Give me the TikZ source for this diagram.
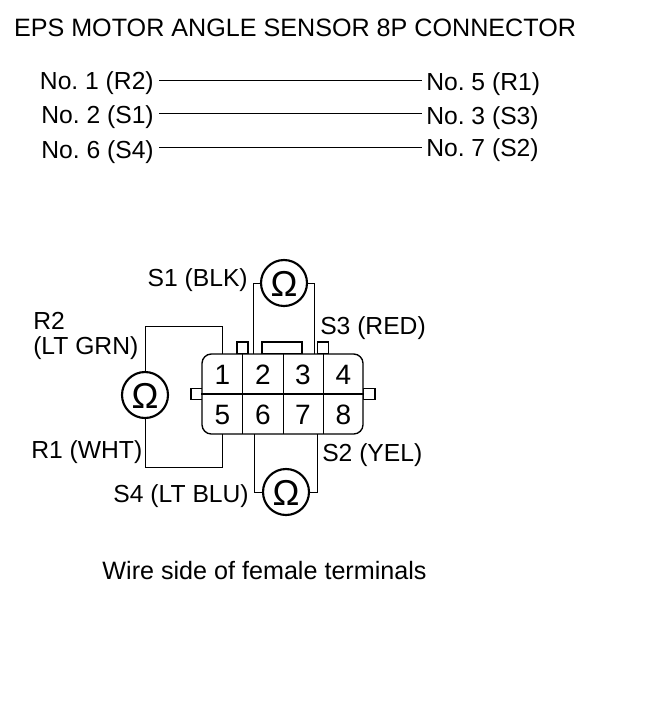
\documentclass[tikz,border=0pt]{standalone}
\usepackage{fontspec}
\setmainfont{Liberation Sans}
\frenchspacing
\tikzset{
  wire/.style = {draw=black, line width=0.7pt},
  txt/.style = {font=\fontsize{18.5}{22}\selectfont, inner sep=0pt, text height=13.4pt, text depth=0pt},
  head/.style = {font=\fontsize{18.85}{22}\selectfont},
  numb/.style = {font=\fontsize{21}{24}\selectfont, inner sep=0pt, text height=15pt, text depth=0pt},
  meter/.style = {draw=black, line width=1.6pt, circle, minimum size=46*0.75pt,
    inner sep=0pt, text height=19.5pt, text depth=0pt, font=\fontsize{27}{30}\selectfont},
  tab/.style = {draw=black, line width=1pt, fill=white, inner sep=0pt, text height=0pt}
}

\begin{document}
\begin{tikzpicture}[x=0.75pt, y=-0.75pt, every node/.style={txt}]
  \useasboundingbox (0,0) rectangle (654,718);
  \node[fill=white, minimum width=654*0.75pt, minimum height=718*0.75pt] (page) at (327,359) {};
  \node[head] (title) at (295,28) {EPS MOTOR ANGLE SENSOR 8P CONNECTOR};
  \node[head] (foot) at (264.5,570.5) {Wire side of female terminals};
  % Continuity table
  \foreach \lname/\ltext/\ly/\rname/\rtext/\ry/\dy in {
      noA/No. 1 (R2)/80.5/noE/No. 5 (R1)/81.5/0.4,
      noB/No. 2 (S1)/114.5/noC/No. 3 (S3)/115.5/1.1,
      noF/No. 6 (S4)/149.5/noG/No. 7 (S2)/147.5/1.9
    } {
      \node[anchor=east] (\lname) at (154,\ly) {\ltext};
      \node[anchor=west] (\rname) at (426,\ry) {\rtext};
      \draw[wire, shorten <=3.75pt, shorten >=3pt] ([yshift=\dy]\lname.east)
        -- ([yshift=\dy]\lname.east -| \rname.west);
    };
  % Connector shell
  \node[tab, minimum width=40*0.75pt, minimum height=12*0.75pt] (key) at (282,348) {};
  \node[tab, minimum width=11*0.75pt, minimum height=12*0.75pt] (tabA) at (242.5,348) {};
  \node[tab, minimum width=11*0.75pt, minimum height=12*0.75pt] (tabB) at (323,348) {};
  \node[tab, minimum width=12*0.75pt, minimum height=11*0.75pt] (tabL) at (197,394) {};
  \node[tab, minimum width=12*0.75pt, minimum height=11*0.75pt] (tabR) at (369,394) {};
  \node[tab, rounded corners=7pt,
    minimum width=161*0.75pt, minimum height=80*0.75pt] (shell) at (282.5,394) {};
  % Terminals, four to a row
  \foreach \pin/\px/\py in {
      1/222.5/374, 2/263/374, 3/303/374, 4/343.5/374,
      5/222.5/414, 6/263/414, 7/303/414, 8/343.5/414
    } {
      \node[numb, minimum width=40*0.75pt, minimum height=40*0.75pt] (pin\pin) at (\px,\py) {\pin};
    };
  \draw[line width=1pt] (shell.west) -- (shell.east);
  \draw[line width=1pt] (pin1.north east) -- (pin5.south east);
  \draw[line width=1pt] (pin2.north east) -- (pin6.south east);
  \draw[line width=1pt] (pin3.north east) -- (pin7.south east);
  % Ohmmeters
  \node[meter] (omS) at (284,283) {Ω};
  \node[meter] (omR) at (145,395) {Ω};
  \node[meter] (omT) at (286,492) {Ω};
  \coordinate (s1) at (253,354);
  \coordinate (s3) at (314,354);
  \coordinate (s4) at (254,434);
  \coordinate (s2) at (317,434);
  \coordinate (r2) at (145,326);
  \coordinate (r1) at (145,467);
  \draw[wire] (omS.west) -| (s1);
  \draw[wire] (omS.east) -| (s3);
  \draw[wire] (omT.west) -| (s4);
  \draw[wire] (omT.east) -| (s2);
  \draw[wire] (omR.north) -- (r2) -| (pin1.north);
  \draw[wire] (omR.south) -- (r1) -| (pin5.south);
  % Wire colours
  \node[anchor=east] (lblS1) at (248,278) {S1 (BLK)};
  \node[anchor=west] (lblS3) at (320,326) {S3 (RED)};
  \node[anchor=west] (lblRa) at (33,321) {R2};
  \node[anchor=west] (lblRb) at (33,346) {(LT GRN)};
  \node[anchor=west] (lblR1) at (31,450) {R1 (WHT)};
  \node[anchor=west] (lblS2) at (322,453) {S2 (YEL)};
  \node[anchor=east] (lblS4) at (249,494) {S4 (LT BLU)};
\end{tikzpicture}
\end{document}
